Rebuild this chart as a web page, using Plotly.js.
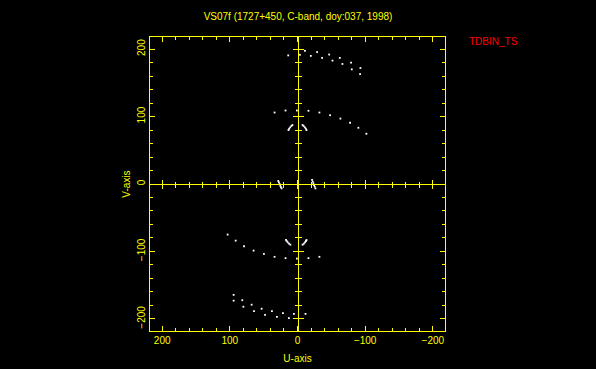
<!DOCTYPE html>
<html><head><meta charset="utf-8">
<script src="https://cdn.plot.ly/plotly-3.0.1.min.js"></script>
<style>html,body{margin:0;padding:0;background:#000;}</style>
</head><body><div id="chart" style="width:596px;height:369px;"></div>
<script>
// UV coverage samples (U, V)
const uOuterTop = [13.7, -3.5, -10.9, -19.7, -29, -36.4, -46.8, -51.7, -62.5, -66.4, -79.2, -80.2, -93, -92.5];
const vOuterTop = [190.7, 191.6, 197.5, 190, 195.6, 187, 192, 183, 187, 178, 180, 170, 172, 163];
const uMidTop = [33.9, 17.7, 0.9, -16.2, -32.4, -48.2, -63.4, -77.7, -90, -101.8];
const vMidTop = [106, 109, 109, 108.6, 106, 102, 97, 90.8, 83.4, 74.5];
const uMidBot = [103.2, 91.4, 79, 64.9, 49.6, 33.9, 17.7, 0.9, -16.2, -32.4];
const vMidBot = [-75, -84, -92.3, -98.8, -103.7, -108, -110, -110.6, -110, -108];
const uOuterBot = [94.4, 94.4, 81.6, 80, 67.8, 64.3, 53, 48, 37.8, 30.4, 21.5, 12.7, 5.3, -11.8];
const vOuterBot = [-164.4, -173, -172.3, -182, -179, -188.6, -185, -194, -188.6, -197, -191.6, -199, -192.6, -192.6];
const uArcs = [7.5, 9, 10.8, 12.3, 13.3, -7.5, -9, -10.8, -12.3, -13.3,
               17, 16, 14.5, 12.5, 10.5, -13.3, -12.5, -11, -9.3, -7.5,
               28.5, 27.5, 26.5, 25.5, 24.5, 23.5, -21.5, -22.5, -23.5, -24.5, -25.5, -26.5];
const vArcs = [87.5, 86, 84, 82, 80, 87.5, 86, 84, 82, 80,
               -83, -84.5, -86.5, -88.5, -90, -83, -84.5, -86.5, -88.5, -90,
               4.5, 2.5, 0, -2.5, -4.5, -6.5, 6, 3.5, 1, -1.5, -4, -6.5];

const titleText = 'VS07f (1727+450, C-band, doy:037, 1998)';
const xTitle = 'U-axis';
const yTitle = 'V-axis';
const tagText = 'TDBIN_TS';

const Y = '#ffff00';
const FONT = 'Liberation Sans, Arial, sans-serif';
const R = 218;

const U = [].concat(uOuterTop, uMidTop, uMidBot, uOuterBot, uArcs);
const V = [].concat(vOuterTop, vMidTop, vMidBot, vOuterBot, vArcs);

const traces = [
  {x: U, y: V, type: 'scatter', mode: 'markers', hoverinfo: 'skip',
   marker: {symbol: 'square', size: 1.8, color: '#ffffff', line: {width: 0}}},
  {x: [], y: [], type: 'scatter', mode: 'markers', xaxis: 'x2', yaxis: 'y'},
  {x: [], y: [], type: 'scatter', mode: 'markers', xaxis: 'x3', yaxis: 'y'},
  {x: [], y: [], type: 'scatter', mode: 'markers', xaxis: 'x', yaxis: 'y2'},
  {x: [], y: [], type: 'scatter', mode: 'markers', xaxis: 'x', yaxis: 'y3'}
];

function frameAxis(range, extra) {
  return Object.assign({
    range: range, autorange: false, showgrid: false, zeroline: false,
    showline: true, linecolor: Y, linewidth: 1, mirror: 'ticks',
    ticks: 'inside', ticklen: 5, tickwidth: 1, tickcolor: Y,
    tick0: 0, dtick: 100,
    minor: {tick0: 0, dtick: 20, ticks: 'inside', ticklen: 3, tickwidth: 1, tickcolor: Y, showgrid: false},
    tickfont: {color: Y, size: 10, family: FONT}
  }, extra);
}
function zeroAxis(range, extra, dir, len, mlen) {
  return Object.assign({
    range: range, autorange: false, showgrid: false, zeroline: false,
    showline: true, linecolor: Y, linewidth: 1, anchor: 'free', position: 0.5,
    ticks: dir, ticklen: len, tickwidth: 1, tickcolor: Y, tick0: 0, dtick: 100,
    showticklabels: false,
    minor: {tick0: 0, dtick: 20, ticks: dir, ticklen: mlen, tickwidth: 1, tickcolor: Y, showgrid: false}
  }, extra);
}

const layout = {
  width: 596, height: 369,
  margin: {l: 150, r: 151, t: 37, b: 38},
  paper_bgcolor: '#000', plot_bgcolor: '#000',
  showlegend: false,
  title: {text: titleText, x: 0.5, xanchor: 'center', y: 1 - 16/369, yanchor: 'middle', yref: 'container',
          font: {color: Y, size: 10, family: FONT}},
  xaxis: frameAxis([R, -R], {title: {text: xTitle, standoff: 9, font: {color: Y, size: 10, family: FONT}}}),
  yaxis: frameAxis([-R, R], {tickangle: -90, title: {text: yTitle, standoff: 3, font: {color: Y, size: 10, family: FONT}}}),
  xaxis2: zeroAxis([R, -R], {overlaying: 'x', side: 'bottom'}, 'outside', 4, 2.5),
  xaxis3: zeroAxis([R, -R], {overlaying: 'x', side: 'bottom'}, 'inside', 4, 2.5),
  yaxis2: zeroAxis([-R, R], {overlaying: 'y', side: 'left'}, 'outside', 5, 3),
  yaxis3: zeroAxis([-R, R], {overlaying: 'y', side: 'left'}, 'inside', 5, 3),
  annotations: [{text: tagText, xref: 'paper', yref: 'paper', x: 1.166, y: 0.983,
                 xanchor: 'center', yanchor: 'middle', showarrow: false,
                 font: {color: '#ff0000', size: 10, family: FONT}}]
};

Plotly.newPlot('chart', traces, layout, {displayModeBar: false, staticPlot: true});
</script></body></html>
